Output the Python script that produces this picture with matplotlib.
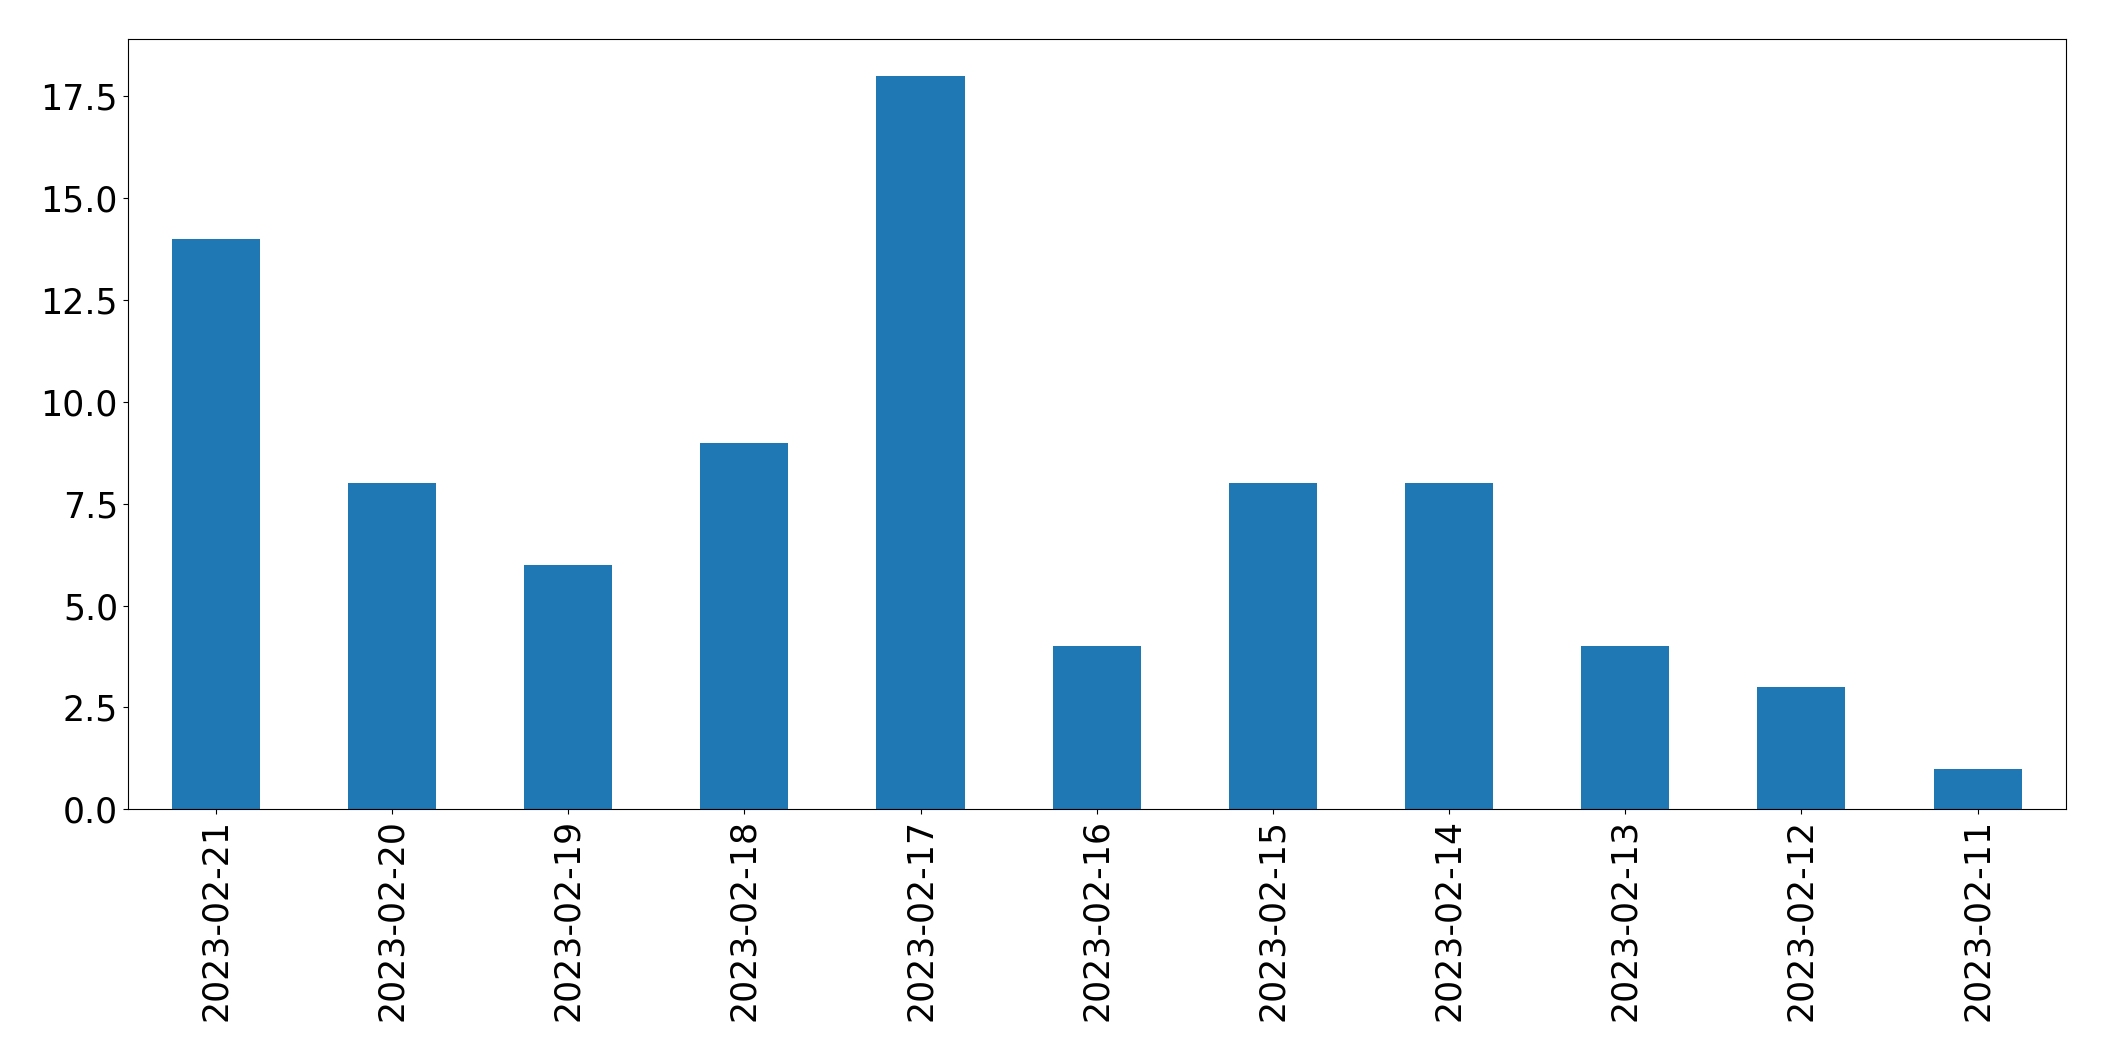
import matplotlib
matplotlib.use('Agg')
from matplotlib import pyplot as plt
import pandas as pd

# data
dates = ['2023-02-21', '2023-02-20', '2023-02-19', '2023-02-18', '2023-02-17',
         '2023-02-16', '2023-02-15', '2023-02-14', '2023-02-13', '2023-02-12',
         '2023-02-11']
counts = [14, 8, 6, 9, 18, 4, 8, 8, 4, 3, 1]

series = pd.Series(counts, index=dates)

fig = plt.figure(figsize=(21.04, 10.61), dpi=100)
ax = fig.add_axes([127.7 / 2104, 1 - 809.3 / 1061, (2065.7 - 127.7) / 2104, (809.3 - 39.3) / 1061])

series.plot(kind='bar', ax=ax, color='#1f77b4')
ax.tick_params(axis='both', labelsize=25)

plt.savefig('out.png', dpi=100)
